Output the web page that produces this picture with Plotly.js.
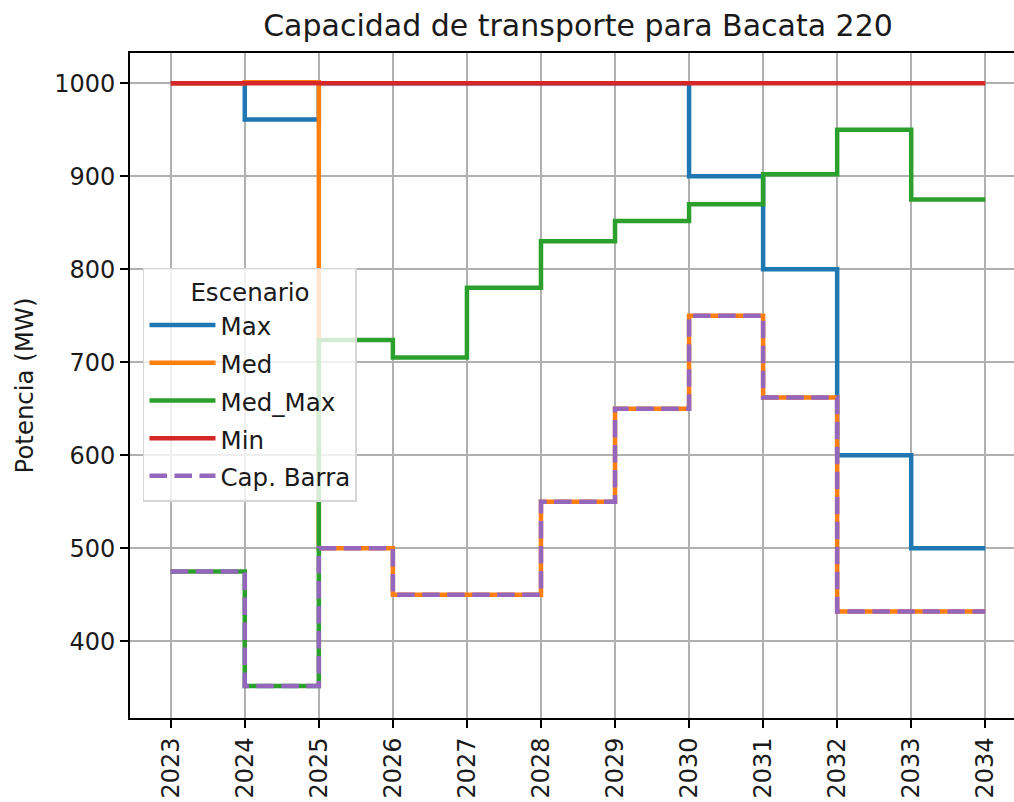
<!DOCTYPE html>
<html>
<head>
<meta charset="utf-8">
<script src="https://cdn.plot.ly/plotly-3.0.1.min.js"></script>
<style>
  html, body { margin: 0; padding: 0; overflow: hidden; background: #fff; }
  #chart { width: 1040px; height: 802px; }
</style>
</head>
<body>
<div id="chart"></div>
<script>
const years = [2023, 2024, 2025, 2026, 2027, 2028, 2029, 2030, 2031, 2032, 2033, 2034];
const maxVals = [1000, 961, 1000, 1000, 1000, 1000, 1000, 900, 800, 600, 500, 500];
const medVals = [1000, 1001, 500, 450, 450, 550, 650, 750, 662, 432, 432, 432];
const medMaxVals = [475, 352, 724, 705, 780, 830, 852, 870, 902, 950, 875, 875];
const minVals = [1000, 1000, 1000, 1000, 1000, 1000, 1000, 1000, 1000, 1000, 1000, 1000];
const capBarraVals = [475, 352, 500, 450, 450, 550, 650, 750, 662, 432, 432, 432];
const seriesNames = ["Max", "Med", "Med_Max", "Min", "Cap. Barra"];

const FONT = "DejaVu Sans, Liberation Sans, sans-serif";
const LW = 4.5;

function stepTrace(name, y, color, dash) {
  return {
    type: "scatter",
    mode: "lines",
    name: "<span style='font-size:24.5px'>" + name + "</span>",
    x: years,
    y: y,
    line: { color: color, width: LW, shape: "hv", dash: dash || "solid" }
  };
}

const data = [
  stepTrace(seriesNames[0], maxVals, "#1f77b4"),
  stepTrace(seriesNames[1], medVals, "#ff7f0e"),
  stepTrace(seriesNames[2], medMaxVals, "#2ca02c"),
  stepTrace(seriesNames[3], minVals, "#d62728"),
  stepTrace(seriesNames[4], capBarraVals, "#9467bd", "17.5px,7.5px")
];

const layout = {
  width: 1040,
  height: 802,
  margin: { l: 130, r: 14, t: 53, b: 84 },
  paper_bgcolor: "#ffffff",
  plot_bgcolor: "#ffffff",
  font: { family: FONT, size: 24, color: "#000000" },
  showlegend: true,
  title: {
    text: "Capacidad de transporte para Bacata 220",
    font: { family: FONT, size: 30, color: "#1a1a1a" },
    x: 0.5, xref: "paper", xanchor: "center",
    y: 1 - 25 / 802, yref: "container", yanchor: "middle"
  },
  xaxis: {
    range: [2022.45, 2034.55],
    tickmode: "array",
    tickvals: years,
    ticktext: years.map(String),
    tickangle: -90,
    ticks: "outside",
    ticklen: 8,
    tickwidth: 1.9,
    tickcolor: "#000",
    showgrid: true,
    gridcolor: "#b0b0b0",
    gridwidth: 1.6,
    zeroline: false,
    showline: true,
    linecolor: "#000",
    linewidth: 1.9,
    mirror: true,
    tickfont: { family: FONT, size: 24, color: "#1a1a1a" }
  },
  yaxis: {
    range: [317.5, 1032.5],
    tickmode: "array",
    tickvals: [400, 500, 600, 700, 800, 900, 1000],
    ticks: "outside",
    ticklen: 8,
    tickwidth: 1.9,
    tickcolor: "#000",
    showgrid: true,
    gridcolor: "#b0b0b0",
    gridwidth: 1.6,
    zeroline: false,
    showline: true,
    linecolor: "#000",
    linewidth: 1.9,
    mirror: true,
    tickfont: { family: FONT, size: 24, color: "#1a1a1a" },
    title: {
      text: "Potencia (MW)",
      font: { family: FONT, size: 24.4, color: "#1a1a1a" },
      standoff: 14
    }
  },
  legend: {
    x: 0.0145, y: 0.677, xanchor: "left", yanchor: "top",
    bgcolor: "rgba(255,255,255,0.8)",
    bordercolor: "#d6d6d6",
    borderwidth: 1.5,
    font: { family: FONT, size: 26.7, color: "#1a1a1a" },
    title: { text: "Escenario", side: "top center", font: { family: FONT, size: 24.5, color: "#1a1a1a" } },
    itemwidth: 66
  }
};

Plotly.newPlot("chart", data, layout, { staticPlot: true, displayModeBar: false });
</script>
</body>
</html>
